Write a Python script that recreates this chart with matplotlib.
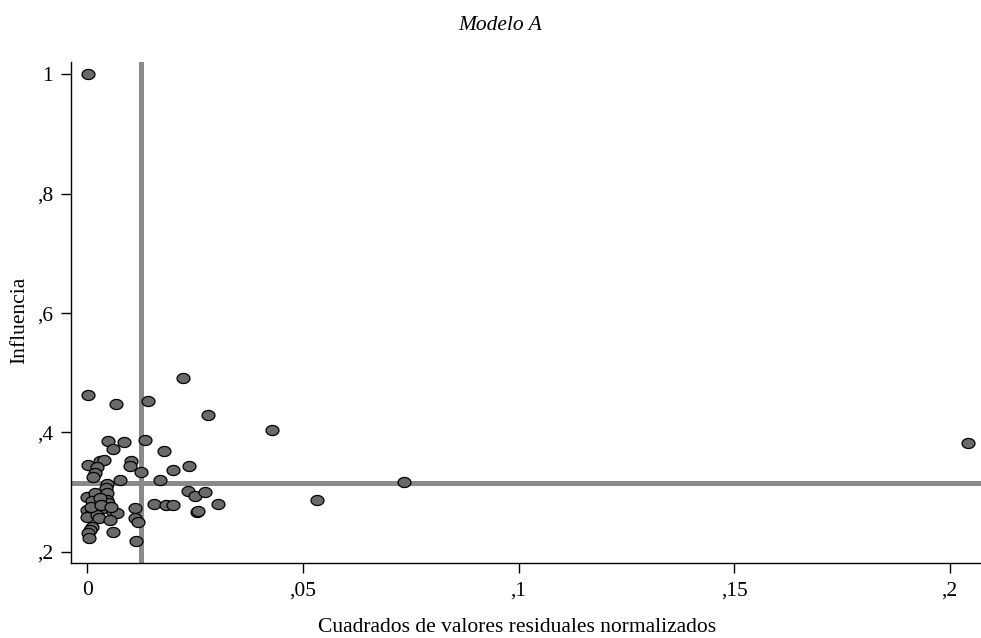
import numpy as np
import matplotlib
matplotlib.use("Agg")
import matplotlib.pyplot as plt
from matplotlib.path import Path

# Data: squared normalized residuals (x) vs leverage (y)
resid_sq = [
    0.0002, 0.0002, 0.0066, 0.0141, 0.0223, 0.0281, 0.0428, 0.0734, 0.0533, 0.2042,
    0.0047, 0.0085, 0.0134, 0.0060, 0.0177, 0.0236, 0.0198, 0.0169, 0.0234, 0.0250,
    0.0274, 0.0302, 0.0155, 0.0183, 0.0198, 0.0254, 0.0257, 0.0002, 0.0029, 0.0039,
    0.0023, 0.0018, 0.0014, 0.0101, 0.0100, 0.0125, 0.0076, 0.0046, 0.0043, 0.0000,
    0.0018, 0.0045, 0.0045, 0.0049, 0.0018, 0.0037, 0.0000, 0.0010, 0.0060, 0.0068,
    0.0000, 0.0022, 0.0026, 0.0053, 0.0010, 0.0006, 0.0060, 0.0002, 0.0005, 0.0111,
    0.0111, 0.0117, 0.0114, 0.0012, 0.0030, 0.0008, 0.0032, 0.0055,
]
leverage = [
    1.000, 0.463, 0.448, 0.452, 0.492, 0.430, 0.404, 0.317, 0.287, 0.383,
    0.386, 0.384, 0.387, 0.372, 0.369, 0.344, 0.337, 0.320, 0.3025, 0.294,
    0.300, 0.281, 0.281, 0.279, 0.279, 0.266, 0.268, 0.3456, 0.3528, 0.354,
    0.3427, 0.3327, 0.326, 0.352, 0.344, 0.333, 0.3205, 0.3132, 0.3065, 0.2925,
    0.2982, 0.2982, 0.2869, 0.2814, 0.2814, 0.273, 0.2702, 0.2673, 0.2673, 0.2647,
    0.259, 0.2618, 0.2563, 0.2534, 0.2422, 0.2367, 0.2338, 0.2312, 0.2228, 0.273,
    0.2568, 0.2496, 0.2183, 0.285, 0.290, 0.276, 0.279, 0.276,
]
mean_leverage = 0.315
mean_resid_sq = 0.01245

x_ticks = [0, 0.05, 0.10, 0.15, 0.20]
x_ticklabels = ["0", ",05", ",1", ",15", ",2"]
y_ticks = [0.2, 0.4, 0.6, 0.8, 1.0]
y_ticklabels = [",2", ",4", ",6", ",8", "1"]

title = "Modelo A"
xlabel = "Cuadrados de valores residuales normalizados"
ylabel = "Influencia"

plt.rcParams["font.family"] = ["Liberation Serif", "DejaVu Serif"]

fig = plt.figure(figsize=(9.81, 6.38), dpi=100)
ax = fig.add_axes([0.0724, 0.1171, 0.9276, 0.7862])

# elliptical marker (slightly wider than tall)
t = np.linspace(0, 2 * np.pi, 60)
verts = np.column_stack([np.cos(t), 0.78 * np.sin(t)])
ellipse = Path(verts, closed=True)

ax.axhline(mean_leverage, color="#8a8a8a", lw=3.6, zorder=1)
ax.axvline(mean_resid_sq, color="#8a8a8a", lw=3.6, zorder=1)

ax.plot(resid_sq, leverage, linestyle="none", marker=ellipse, markersize=9.3,
        markerfacecolor="#6a6a6a", markeredgecolor="black", markeredgewidth=0.9,
        zorder=3, clip_on=False)

ax.set_xlim(-0.00378, 0.20725)
ax.set_ylim(0.1809, 1.0211)

ax.set_xticks(x_ticks)
ax.set_xticklabels(x_ticklabels)
ax.set_yticks(y_ticks)
ax.set_yticklabels(y_ticklabels)
ax.tick_params(axis="both", labelsize=15.5, length=7, width=1, color="black")
ax.tick_params(axis="x", pad=6)
ax.tick_params(axis="y", pad=6)

for s in ["top", "right"]:
    ax.spines[s].set_visible(False)
for s in ["left", "bottom"]:
    ax.spines[s].set_linewidth(1.0)
    ax.spines[s].set_color("black")

fig.text(500 / 981, 1 - 25 / 638, title, ha="center", va="center",
         fontsize=15.5, style="italic")
fig.text(517 / 981, 1 - 627 / 638, xlabel, ha="center", va="center", fontsize=15.5)
fig.text(20 / 981, 1 - 320 / 638, ylabel, ha="center", va="center",
         fontsize=15.5, rotation=90)

fig.savefig("out.png", dpi=100)
